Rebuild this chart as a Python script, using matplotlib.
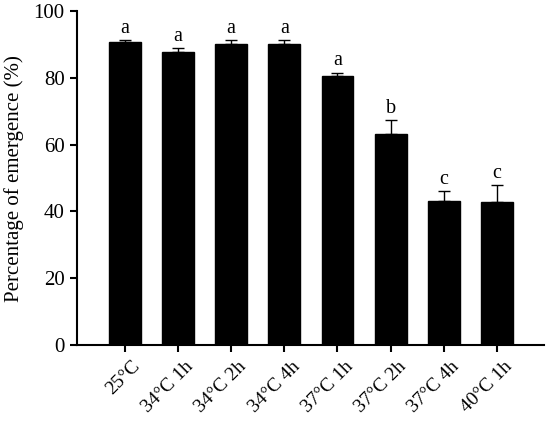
import numpy as np
import matplotlib
matplotlib.use('Agg')
import matplotlib.pyplot as plt

plt.rcParams['font.family'] = ['Liberation Serif', 'DejaVu Serif']

categories = ['25°C', '34°C 1h', '34°C 2h', '34°C 4h', '37°C 1h', '37°C 2h', '37°C 4h', '40°C 1h']
means = [90.6, 87.7, 90.2, 90.1, 80.5, 63.1, 43.1, 42.8]
errors = [0.7, 1.2, 1.2, 1.2, 1.1, 4.4, 3.1, 5.1]
letters = ['a', 'a', 'a', 'a', 'a', 'b', 'c', 'c']

fig = plt.figure(figsize=(5.5, 4.24), dpi=100)
ax = fig.add_axes([0.14, 0.186, 0.849, 0.788])

x = np.arange(len(categories))
ax.bar(x, means, width=0.6, color='black', edgecolor='black', zorder=2)
ax.errorbar(x, means, yerr=[np.zeros(len(errors)), errors], fmt='none',
            ecolor='black', elinewidth=1.0, capsize=4.5, capthick=1.0, zorder=1)

for xi, m, e, lab in zip(x, means, errors, letters):
    ax.annotate(lab, (xi, m + e), xytext=(0, 1.5), textcoords='offset points',
                ha='center', va='bottom', fontsize=14.5)

ax.set_xlim(-0.9, len(categories) - 1 + 0.885)
ax.set_ylim(0, 100)
ax.set_yticks([0, 20, 40, 60, 80, 100])
ax.set_xticks(x)
ax.set_xticklabels([])
# rotated category labels, set a bit right of and below each tick
for xi, cat in zip(x, categories):
    ax.annotate(cat, (xi, 0), xytext=(5, -9), textcoords='offset points',
                rotation=45, ha='right', va='top', rotation_mode='anchor',
                fontsize=14, annotation_clip=False)
ax.set_ylabel('Percentage of emergence (%)', fontsize=15, labelpad=7)

ax.spines['top'].set_visible(False)
ax.spines['right'].set_visible(False)
for s in ['left', 'bottom']:
    ax.spines[s].set_linewidth(1.5)
ax.tick_params(direction='out', length=5, width=1.5, labelsize=15, pad=4)

fig.savefig('out.png', dpi=100)
